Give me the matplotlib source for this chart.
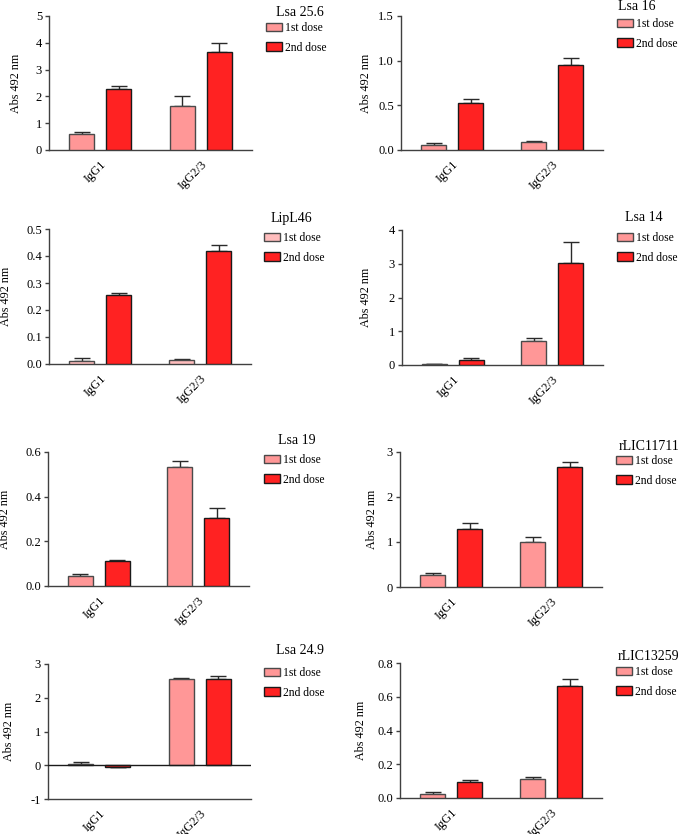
import matplotlib
matplotlib.use("Agg")
import matplotlib.pyplot as plt
import numpy as np
from matplotlib.patches import Patch
from matplotlib.transforms import ScaledTranslation

plt.rcParams['font.family'] = ['Liberation Serif', 'DejaVu Serif']

# panel names (legend titles)
panels = ["Lsa 25.6", "Lsa 16", "LipL46", "Lsa 14",
          "Lsa 19", "rLIC11711", "Lsa 24.9", "rLIC13259"]
groups = ["IgG1", "IgG2/3"]
doses = ["1st dose", "2nd dose"]

# mean absorbance, [IgG1, IgG2/3]
first_dose = [[0.59, 1.65], [0.055, 0.085], [0.010, 0.015], [0.02, 0.71],
              [0.043, 0.534], [0.275, 1.00], [0.03, 2.55], [0.024, 0.115]]
first_err = [[0.08, 0.37], [0.022, 0.014], [0.011, 0.005], [0.008, 0.10],
             [0.009, 0.026], [0.035, 0.12], [0.07, 0.05], [0.010, 0.012]]
second_dose = [[2.29, 3.64], [0.525, 0.953], [0.257, 0.417], [0.15, 3.01],
               [0.110, 0.305], [1.29, 2.66], [-0.04, 2.57], [0.093, 0.665]]
second_err = [[0.09, 0.34], [0.048, 0.082], [0.007, 0.023], [0.05, 0.62],
              [0.008, 0.045], [0.13, 0.12], [0.012, 0.08], [0.016, 0.040]]

# y axis ranges and tick labels
y_min = [0, 0, 0, 0, 0, 0, -1, 0]
y_max = [5, 1.5, 0.5, 4, 0.6, 3, 3, 0.8]
y_step = [1, 0.5, 0.1, 1, 0.2, 1, 1, 0.2]
y_decimals = [0, 1, 1, 0, 1, 0, 0, 1]

first_colors = ["#ff9797", "#ff9797", "#ffbdbd", "#ff9797",
                "#ff9797", "#ff9797", "#ff9797", "#ff9797"]
second_color = "#ff2222"

W, H = 679, 834
# axes boxes in pixels: left, right, top, bottom
boxes = [(49, 252, 16, 150), (401, 603, 16, 150),
         (49, 251, 229, 364), (402, 603, 230, 365),
         (48, 249, 452, 586), (400, 602, 452, 587),
         (48, 251, 664, 799), (400, 602, 663, 798)]
# legend: patch left, first patch centre (px)
leg_pos = [(266, 29), (617, 25), (264, 239), (617, 239),
           (264, 461), (616, 462), (264, 674), (616, 673)]
# legend title centre (px)
title_pos = [(300, 13), (637, 6), (291, 219), (644, 218),
             (297, 440), (649, 447), (300, 651), (648, 656)]
# ylabel right edge offset from axis (px)
ylab_off = [27, 29, 37, 30, 37, 22, 33, 33]

fig = plt.figure(figsize=(W / 100, H / 100), dpi=100)

x = np.arange(len(groups))
bw = 0.25
off = 0.185
shift = ScaledTranslation(4 / 100, 0, fig.dpi_scale_trans)

for i, name in enumerate(panels):
    l, r, t, b = boxes[i]
    ax = fig.add_axes([l / W, 1 - b / H, (r - l) / W, (b - t) / H])

    v1 = np.array(first_dose[i])
    v2 = np.array(second_dose[i])
    e1 = np.array(first_err[i])
    e2 = np.array(second_err[i])

    ax.bar(x - off, v1, bw, color=first_colors[i], edgecolor="#4a4a4a",
           linewidth=1.0, zorder=3)
    ax.bar(x + off, v2, bw, color=second_color, edgecolor="#1a1a1a",
           linewidth=1.0, zorder=3)

    for xs, v, e in ((x - off, v1, e1), (x + off, v2, e2)):
        lo = np.where(v < 0, e, 0)
        hi = np.where(v < 0, 0, e)
        ax.errorbar(xs, v, yerr=[lo, hi], fmt="none", ecolor="#2a2a2a",
                    elinewidth=1.0, capsize=6, capthick=1.0, zorder=2)

    ax.set_xlim(-0.51, 1.51)
    ax.set_ylim(y_min[i], y_max[i])
    ticks = np.arange(y_min[i], y_max[i] + y_step[i] / 2, y_step[i])
    ax.set_yticks(ticks)
    ax.set_yticklabels([f"{tv:.{y_decimals[i]}f}" for tv in ticks])
    ax.set_xticks(x)
    ax.set_xticklabels(groups, rotation=45, ha="right", va="top",
                       rotation_mode="anchor")
    for lab in ax.get_xticklabels():
        lab.set_transform(lab.get_transform() + shift)
    ax.tick_params(axis="x", length=0, pad=6, labelsize=9)
    ax.tick_params(axis="y", length=3, width=1.0, color="#404040",
                   pad=2, labelsize=9)

    for s in ("top", "right"):
        ax.spines[s].set_visible(False)
    for s in ("left", "bottom"):
        ax.spines[s].set_color("#404040")
        ax.spines[s].set_linewidth(1.0)
    if y_min[i] < 0:
        ax.axhline(0, color="#1a1a1a", linewidth=1.0, zorder=4)

    ax.set_ylabel("Abs 492 nm", fontsize=8.7)
    ax.yaxis.set_label_coords(-ylab_off[i] / (r - l), 0.5)

    handles = [Patch(facecolor=first_colors[i], edgecolor="#4a4a4a"),
               Patch(facecolor=second_color, edgecolor="#1a1a1a")]
    lx, ly = leg_pos[i]
    ax.legend(handles, doses, loc="upper left",
              bbox_to_anchor=(lx / W, 1 - (ly - 7) / H),
              bbox_transform=fig.transFigure, frameon=False,
              fontsize=8.4, borderpad=0, borderaxespad=0,
              handlelength=1.35, handleheight=0.7,
              handletextpad=0.3, labelspacing=0.65)
    tx, ty = title_pos[i]
    fig.text(tx / W, 1 - ty / H, name, fontsize=10, ha="center", va="center")

fig.savefig("out.png", dpi=100)
